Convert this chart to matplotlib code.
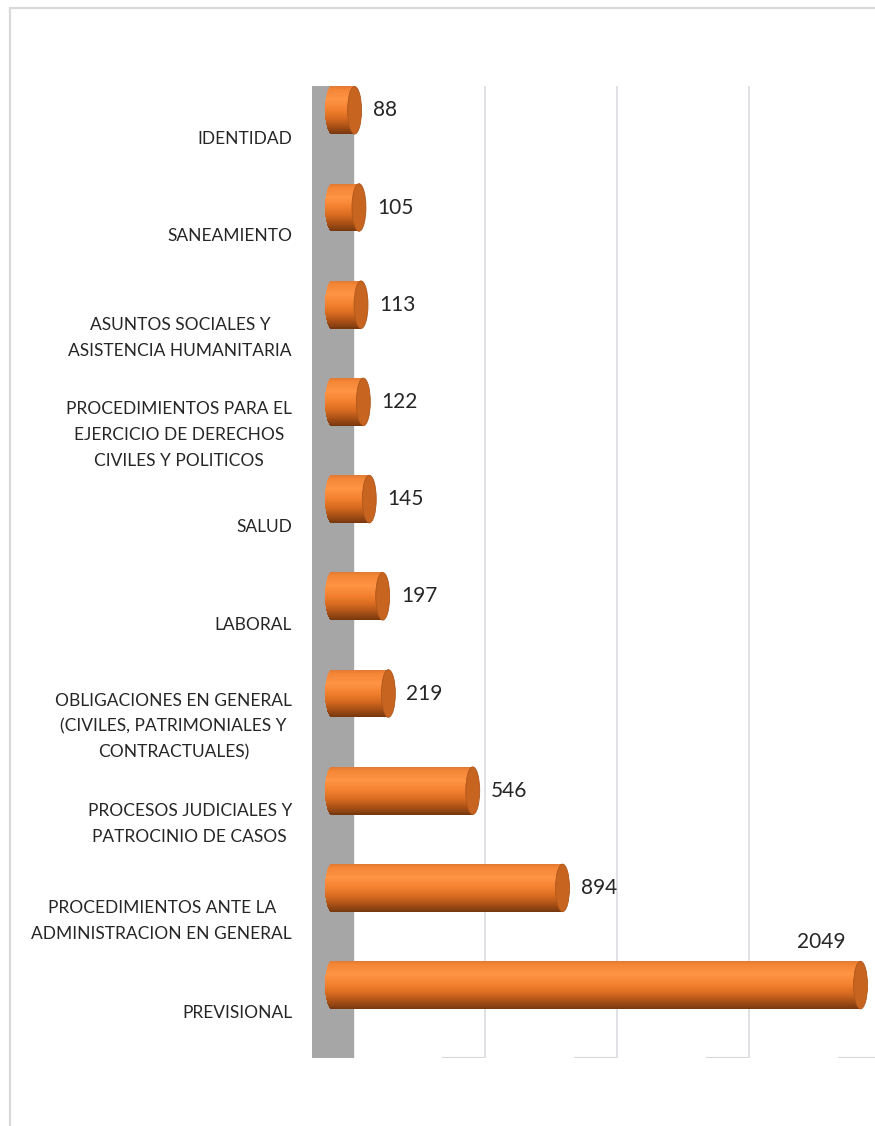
import numpy as np
import matplotlib
matplotlib.use('Agg')
import matplotlib.pyplot as plt
from matplotlib.patches import Ellipse, Rectangle
from matplotlib.colors import LinearSegmentedColormap

plt.rcParams['font.family'] = ['Lato', 'DejaVu Sans']

# data (top to bottom)
categories = [
    'IDENTIDAD',
    'SANEAMIENTO',
    'ASUNTOS SOCIALES Y\nASISTENCIA HUMANITARIA',
    'PROCEDIMIENTOS PARA EL\nEJERCICIO DE DERECHOS\nCIVILES Y POLITICOS',
    'SALUD',
    'LABORAL',
    'OBLIGACIONES EN GENERAL\n(CIVILES, PATRIMONIALES Y\nCONTRACTUALES)',
    'PROCESOS JUDICIALES Y\nPATROCINIO DE CASOS',
    'PROCEDIMIENTOS ANTE LA\nADMINISTRACION EN GENERAL',
    'PREVISIONAL',
]
values = [88, 105, 113, 122, 145, 197, 219, 546, 894, 2049]
grid_ticks = [500, 1000, 1500, 2000]

W, H = 875, 1126
fig = plt.figure(figsize=(W / 100, H / 100), dpi=100)

# outer chart border (cropped on right / bottom)
fig.add_artist(Rectangle((9.5 / W, -0.1), 1.2, 1 - 8.5 / H + 0.1,
                         transform=fig.transFigure, fill=False,
                         edgecolor='#d9d9d9', lw=1.6))

pos = [312 / W, 1 - 1058 / H, 563 / W, (1058 - 86) / H]
n = len(values)
ylim = (n - 0.25, -0.25)

# back wall + gridlines (own scale, 3D offset)
back = fig.add_axes(pos)
back.set_xlim(-155.3, 1977)
back.set_ylim(*ylim)
back.axvspan(-155.3, 0, color='#a6a6a6', zorder=1)
for g in grid_ticks:
    back.axvline(g, color='#d9d9de', lw=1.1, zorder=1)
    back.plot([g - 163, g], [ylim[0], ylim[0]], color='#d9d9de', lw=1.6,
              solid_capstyle='butt', zorder=1)
back.axis('off')

# front: cylinders
ax = fig.add_axes(pos)
ax.patch.set_alpha(0)
ax.set_xlim(-77, 2105)
ax.set_ylim(*ylim)

bar_h = 0.49
cap_a = 27  # half width of the end ellipse in data units
cmap = LinearSegmentedColormap.from_list('cyl', [
    (0.0, '#e27a34'), (0.08, '#f48636'), (0.28, '#ff9445'),
    (0.5, '#f27f2d'), (0.68, '#d66a20'), (0.86, '#a34d15'),
    (1.0, '#76380f')])
nstrip = 48
for i, v in enumerate(values):
    for k in range(nstrip):
        t = (k + 0.5) / nstrip
        dy = (t - 0.5) * bar_h
        ext = cap_a * np.sqrt(max(0.0, 1 - (2 * dy / bar_h) ** 2))
        ax.barh(i + dy, v + ext, left=-ext, height=bar_h / nstrip * 1.05,
                color=cmap(t), lw=0, zorder=3)
    ax.add_patch(Ellipse((v, i), 2 * cap_a, bar_h, facecolor='#c66420',
                         edgecolor='#b0561b', lw=0.6, zorder=4))

    if v > 0.9 * ax.get_xlim()[1]:
        ax.annotate(str(v), (v + cap_a, i - bar_h / 2), xytext=(-16, 7),
                    textcoords='offset points', ha='right', va='bottom',
                    fontsize=15, color='#262626')
    else:
        ax.annotate(str(v), (v + cap_a, i), xytext=(8, 0),
                    textcoords='offset points', ha='left', va='center',
                    fontsize=15, color='#262626')

ax.set_yticks(np.arange(n) + 0.275)
ax.set_yticklabels(categories, fontsize=12.5, color='#262626', linespacing=1.75)
for lab in ax.get_yticklabels():
    lab.set_multialignment('center')
ax.tick_params(axis='y', length=0, pad=14.4)
ax.set_xticks([])
for s in ax.spines.values():
    s.set_visible(False)

fig.savefig('out.png', dpi=100, facecolor='white')
